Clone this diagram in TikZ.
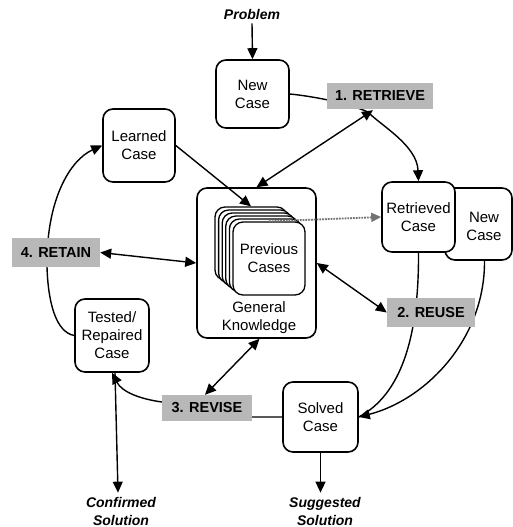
\documentclass[tikz,border=0pt]{standalone}
\usepackage{fontspec}
\newfontfamily\hv{Liberation Sans}
\usetikzlibrary{arrows.meta,calc}
\pgfdeclarelayer{bg}
\pgfsetlayers{bg,main}
\begin{document}
\begin{tikzpicture}[x=1pt,y=-1pt,
 box/.style={draw,line width=1.6pt,rounded corners=10pt,fill=white,align=center,inner sep=0pt,font=\hv\fontsize{15}{18}\selectfont},
 boxtext/.style={align=center,inner sep=0pt,font=\hv\fontsize{15}{18}\selectfont},
 card/.style={draw,line width=1.3pt,rounded corners=10pt,fill=white,minimum width=72pt,minimum height=73pt,inner sep=0pt,align=center,font=\hv\fontsize{15}{18}\selectfont},
 lab/.style={fill=black!28,inner sep=0pt,font=\hv\bfseries\fontsize{14.5}{16}\selectfont},
 io/.style={font=\hv\bfseries\itshape\fontsize{14}{18}\selectfont,align=center,inner xsep=1pt,inner ysep=4pt},
 con/.style={line width=1.4pt},
 tip/.tip={Triangle[length=11pt,width=10pt]},
 arr/.style={con,-tip},
 darr/.style={con,tip-tip},
 dotarr/.style={line width=1.8pt,draw=black!55,densely dotted,-{Triangle[length=10pt,width=9pt]}}]
\useasboundingbox (0,0) rectangle (513,527);

% nodes
\node[io] (problem) at (252,14) {Problem};
\node[box,minimum width=73pt,minimum height=68pt] (newcase) at (252.5,94) {New\\Case};
\node[box,minimum width=72pt,minimum height=73pt] (learned) at (139,145.5) {Learned\\Case};
\node[box,minimum width=67pt,minimum height=72pt] (newcase2) at (478.5,224) {};
\node[boxtext] (newcase2text) at (484,226) {New\\Case};
\node[box,minimum width=73pt,minimum height=70pt] (retrieved) at (418.5,217) {Retrieved\\Case};
\node[box,minimum width=119pt,minimum height=150pt] (gk) at (256.5,263) {};
\node[boxtext] (gktext) at (259,318) {General\\Knowledge};
\node[card] (cardA) at (251,243.5) {};
\node[card] (cardB) at (254.6,246.5) {};
\node[card] (cardC) at (258.2,249.5) {};
\node[card] (cardD) at (261.8,252.5) {};
\node[card] (cardE) at (265.4,255.5) {};
\node[card] (prev) at (269,258.5) {Previous\\Cases};
\node[box,minimum width=74pt,minimum height=73pt] (tested) at (112,335.5) {Tested/\\Repaired\\Case};
\node[box,minimum width=75pt,minimum height=70pt] (solved) at (320.5,417) {Solved\\Case};
\node[io] (confirmed) at (121,511) {Confirmed\\Solution};
\node[io] (suggested) at (325,511) {Suggested\\Solution};

\node[lab,minimum width=106pt,minimum height=26pt] (retrieve) at (380,96) {1. RETRIEVE};
\node[lab,minimum width=88pt,minimum height=29pt] (reuse) at (431,312.5) {2. REUSE};
\node[lab,minimum width=90pt,minimum height=26pt] (revise) at (207,408) {3. REVISE};
\node[lab,minimum width=88pt,minimum height=29pt] (retain) at (56,252.5) {4. RETAIN};

% cycle connectors passing under the labels
\begin{pgfonlayer}{bg}
\draw[arr] (newcase.east) .. controls (310,96) and (345,102) .. (368,112)
   .. controls (380,125) and (417,145) .. (retrieved.north);
\draw[con] (retrieved.south) .. controls (419,340) and (400,395) .. (solved.east);
\draw[arr] ($(newcase2.south)+(6,0)$) .. controls (485,340) and (425,400) .. (solved.east);
\draw[arr] (solved.west) -- (240,417) .. controls (200,417) and (185,405) .. (162,402)
   .. controls (140,399) and (122,392) .. (tested.south);
\draw[arr] (tested.west) .. controls (55,332) and (48,300) .. (47,267)
   .. controls (46,200) and (70,160) .. (learned.west);
\end{pgfonlayer}

% other connectors
\draw[arr] (problem.south) -- (newcase.north);
\draw[darr] ($(retrieve.south)+(-7,1)$) -- (gk.north);
\draw[arr] (learned.east) -- (cardA.north);
\draw[dotarr] (prev.north) -- (retrieved.west);
\draw[darr] (retain.east) -- (gk.west);
\draw[darr] (gk.east) -- (reuse.west);
\draw[darr] ($(revise.north)+(-2,0)$) -- ($(gk.south)+(3,0)$);
\draw[arr] ($(tested.south)+(3,0)$) -- ($(confirmed.north)+(-3,0)$);
\draw[arr] (solved.south) -- (solved.south |- suggested.north);
\end{tikzpicture}
\end{document}
